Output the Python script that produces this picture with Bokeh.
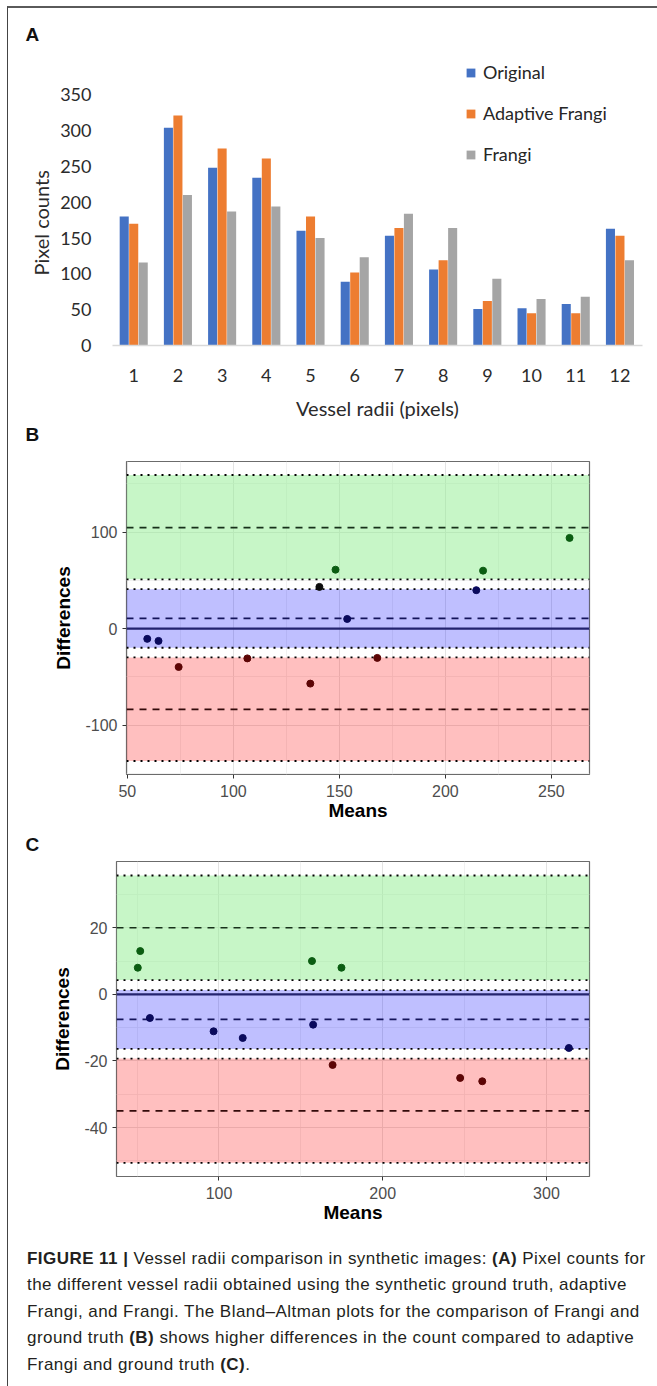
from bokeh.plotting import figure
from bokeh.layouts import column
from bokeh.models import (ColumnDataSource, FixedTicker, Legend, LegendItem, Title,
                          BoxAnnotation, Span, Div, CustomJSTickFormatter)
from bokeh.transform import dodge
from bokeh.embed import file_html
from bokeh.resources import INLINE

# ---------------- data ----------------
radii = [1, 2, 3, 4, 5, 6, 7, 8, 9, 10, 11, 12]
original = [180, 304, 248, 234, 160, 89, 153, 106, 51, 52, 58, 163]
adaptive_frangi = [170, 321, 275, 261, 180, 102, 164, 119, 62, 45, 45, 153]
frangi = [116, 210, 187, 194, 150, 123, 184, 164, 93, 65, 68, 119]
count_ticks = [0, 50, 100, 150, 200, 250, 300, 350]

# Bland-Altman: Frangi vs ground truth (B)
b_means = [148.2, 258.6, 217.8, 214.6, 153.7, 106.6, 167.9, 136.3, 74.2, 59.4, 64.7, 140.6]
b_diffs = [61.0, 93.9, 60.0, 39.8, 10.0, -30.8, -30.3, -56.9, -39.7, -10.6, -12.7, 43.2]
b_bias, b_bias_ci = 10.6, (-19.8, 40.8)
b_upper, b_upper_ci = 104.5, (51.0, 159.0)
b_lower, b_lower_ci = -83.6, (-137.0, -29.8)

# Bland-Altman: adaptive Frangi vs ground truth (C)
c_means = [174.8, 313.7, 260.8, 247.3, 169.4, 96.7, 157.5, 114.5, 57.8, 50.4, 51.9, 156.8]
c_diffs = [8.0, -16.1, -26.1, -25.1, -21.2, -11.1, -9.1, -13.1, -7.1, 8.0, 13.0, 10.0]
c_bias, c_bias_ci = -7.5, (-16.4, 1.3)
c_upper, c_upper_ci = 20.0, (4.3, 35.7)
c_lower, c_lower_ci = -35.0, (-50.6, -19.3)

# ---------------- panel A ----------------
BLUE, ORANGE, GRAY = "#4472C4", "#ED7D31", "#A5A5A5"
CAL = "Lato"
W = 648
srcA = ColumnDataSource(dict(r=radii, o=original, a=adaptive_frangi, f=frangi))

pA = figure(width=W, height=440, output_backend="svg", toolbar_location=None,
            x_range=(0.52, 12.51), y_range=(0, 404.7), frame_align=False,
            min_border_left=104, min_border_right=14, min_border_top=47, min_border_bottom=103)
pA.outline_line_color = None
pA.grid.grid_line_color = None
bw = 0.205
r1 = pA.vbar(x=dodge("r", -0.215, range=pA.x_range), top="o", width=bw, source=srcA,
             fill_color=BLUE, line_color=None)
r2 = pA.vbar(x=dodge("r", 0.0, range=pA.x_range), top="a", width=bw, source=srcA,
             fill_color=ORANGE, line_color=None)
r3 = pA.vbar(x=dodge("r", 0.215, range=pA.x_range), top="f", width=bw, source=srcA,
             fill_color=GRAY, line_color=None)

pA.xaxis.ticker = FixedTicker(ticks=radii)
pA.yaxis.ticker = FixedTicker(ticks=count_ticks)
for ax in (pA.xaxis[0], pA.yaxis[0]):
    ax.major_tick_out = 0
    ax.major_tick_in = 0
    ax.minor_tick_out = 0
    ax.minor_tick_in = 0
    ax.major_label_text_font = CAL
    ax.major_label_text_font_size = "18px"
    ax.major_label_text_color = "#2b2b2b"
pA.xaxis.axis_line_color = "#D9D9D9"
pA.xaxis.axis_line_width = 1.5
pA.yaxis.axis_line_color = None
pA.xaxis.major_label_standoff = 23
pA.yaxis.major_label_standoff = 21
pA.xaxis.axis_label = "Vessel radii (pixels)"
pA.xaxis.axis_label_text_font = CAL
pA.xaxis.axis_label_text_font_style = "normal"
pA.xaxis.axis_label_text_font_size = "20px"
pA.xaxis.axis_label_text_color = "#2b2b2b"
pA.xaxis.axis_label_standoff = 11

legA = Legend(items=[LegendItem(label="Original", renderers=[r1]),
                     LegendItem(label="Adaptive Frangi", renderers=[r2]),
                     LegendItem(label="Frangi", renderers=[r3])],
              location=(353, 180), orientation="vertical",
              glyph_width=11, glyph_height=11, label_height=22, spacing=19,
              padding=0, margin=0, label_standoff=7,
              border_line_color=None, background_fill_alpha=0,
              label_text_font=CAL, label_text_font_size="18px", label_text_color="#262626")
pA.add_layout(legA)


def letter_style(t):
    t.text_font = "Liberation Sans"
    t.text_font_size = "19px"
    t.text_font_style = "bold"
    t.text_color = "#111111"


pA.title.text = "A"
pA.title.align = "left"
pA.title.offset = -87
pA.title.standoff = 21
letter_style(pA.title)

pA.add_layout(Title(text="Pixel counts", align="left", offset=70, standoff=10,
                    text_font=CAL, text_font_size="20px", text_font_style="normal",
                    text_color="#2b2b2b"), "left")

# panel letter "B" sits in the strip between panel A's axis title and panel B
tB = Title(text="B", align="left", offset=-87, vertical_align="top", standoff=3)
letter_style(tB)
pA.add_layout(tB, "below")

hyphen_fmt = "return tick.toFixed(0);"


# ---------------- Bland-Altman panels ----------------
def ba_panel(letter, letter_offset, letter_standoff, means, diffs, bias, bias_ci, upper, upper_ci,
             lower, lower_ci, xr, yr, xt, xminor, yt, yminor, height, mbl, fw, mbt, mbb):
    p = figure(width=W, height=height, output_backend="svg", toolbar_location=None,
               x_range=xr, y_range=yr, frame_align=False,
               min_border_left=mbl, min_border_right=W - mbl - fw,
               min_border_top=mbt, min_border_bottom=mbb)
    p.outline_line_color = "#6b6b6b"
    p.outline_line_width = 1.2
    p.xaxis.ticker = FixedTicker(ticks=xt, minor_ticks=xminor)
    p.yaxis.ticker = FixedTicker(ticks=yt, minor_ticks=yminor)
    p.yaxis.formatter = CustomJSTickFormatter(code=hyphen_fmt)
    for g in (p.xgrid[0], p.ygrid[0]):
        g.grid_line_color = "#E3E3E3"
        g.grid_line_width = 1
        g.minor_grid_line_color = "#EEEEEE"
        g.minor_grid_line_width = 0.8
    for ax in (p.xaxis[0], p.yaxis[0]):
        ax.axis_line_color = None
        ax.major_tick_out = 4
        ax.major_tick_in = 0
        ax.major_tick_line_color = "#333333"
        ax.minor_tick_out = 0
        ax.minor_tick_in = 0
        ax.major_label_text_font = "Liberation Sans"
        ax.major_label_text_font_size = "16px"
        ax.major_label_text_color = "#4D4D4D"
        ax.axis_label_text_font = "Liberation Sans"
        ax.axis_label_text_font_style = "bold"
        ax.axis_label_text_font_size = "19px"
        ax.axis_label_text_color = "#000000"
    p.xaxis.major_label_standoff = 6
    p.yaxis.major_label_standoff = 5
    p.xaxis.axis_label = "Means"
    p.yaxis.axis_label = "Differences"
    p.xaxis.axis_label_standoff = 0
    p.yaxis.axis_label_standoff = 8

    bands = [(upper_ci, "#90EE90", 0.5), (bias_ci, "#0000FF", 0.25), (lower_ci, "#FF0000", 0.25)]
    for (lo, hi), col, al in bands:
        p.add_layout(BoxAnnotation(bottom=lo, top=hi, fill_color=col, fill_alpha=al,
                                   line_color=None, level="underlay"))
    for v in (upper_ci[0], upper_ci[1], bias_ci[0], bias_ci[1], lower_ci[0], lower_ci[1]):
        p.add_layout(Span(location=v, dimension="width", line_color="#000000",
                          line_width=1.8, line_dash="2 5", level="underlay"))
    for v, col in ((upper, "#17301a"), (bias, "#14145a"), (lower, "#330a0a")):
        p.add_layout(Span(location=v, dimension="width", line_color=col,
                          line_width=1.6, line_dash="7 6", level="underlay"))
    p.add_layout(Span(location=0, dimension="width", line_color="#23236e",
                      line_width=2.2, level="underlay"))

    cols = []
    for d in diffs:
        if upper_ci[0] <= d <= upper_ci[1]:
            cols.append("#0b5d12")
        elif bias_ci[0] <= d <= bias_ci[1]:
            cols.append("#0a0a5c")
        elif lower_ci[0] <= d <= lower_ci[1]:
            cols.append("#5c0505")
        else:
            cols.append("#0d0d0d")
    src = ColumnDataSource(dict(m=means, d=diffs, c=cols))
    p.scatter(x="m", y="d", source=src, size=7, fill_color="c", line_color="c")

    if letter:
        p.title.text = letter
        p.title.align = "left"
        p.title.offset = letter_offset
        p.title.standoff = letter_standoff
        letter_style(p.title)
    return p


pB = ba_panel(None, 0, 0, b_means, b_diffs, b_bias, b_bias_ci, b_upper, b_upper_ci,
              b_lower, b_lower_ci,
              (49.6, 268.0), (-151, 173), [50, 100, 150, 200, 250], [75, 125, 175, 225],
              [-100, 0, 100], [-150, -50, 50, 150], 375, 118, 463, 13, 47)
pC = ba_panel("C", -91, 14, c_means, c_diffs, c_bias, c_bias_ci, c_upper, c_upper_ci,
              c_lower, c_lower_ci,
              (37.4, 326.3), (-54.7, 39.9), [100, 200, 300], [50, 150, 250],
              [-40, -20, 0, 20], [-50, -30, -10, 10, 30], 402, 108, 473, 38, 49)

# ---------------- caption ----------------
cap_lines = [
    "<b>FIGURE 11 |</b> Vessel radii comparison in synthetic images: <b>(A)</b> Pixel counts for",
    "the different vessel radii obtained using the synthetic ground truth, adaptive",
    "Frangi, and Frangi. The Bland\u2013Altman plots for the comparison of Frangi and",
    "ground truth <b>(B)</b> shows higher differences in the count compared to adaptive",
    "Frangi and ground truth <b>(C)</b>.",
]
cap_html = ("<div style=\"font-family:'Liberation Sans',Arial,sans-serif;font-size:17px;"
            "letter-spacing:0.45px;line-height:26.4px;color:#231f20;white-space:nowrap;"
            "padding:16px 0 0 14px;\">" + "<br>".join(cap_lines) + "</div>")
cap = Div(text=cap_html, width=W, height=153)

layout = column(pA, pB, pC, cap, spacing=0,
                styles={"margin-left": "7px", "margin-top": "6px",
                        "border-left": "1px solid #444444", "border-top": "2px solid #5a5a5a"})

open("out.html", "w").write(file_html(layout, INLINE))
